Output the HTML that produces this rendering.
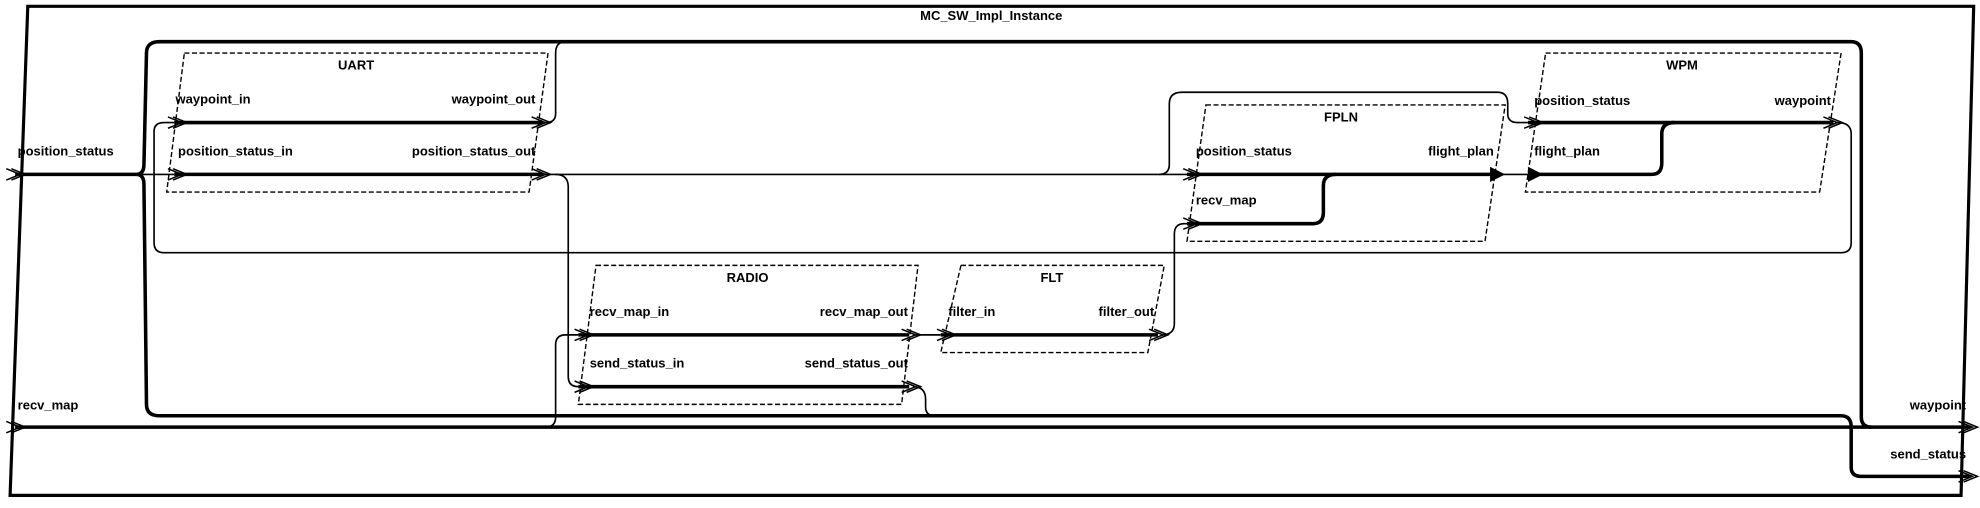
<!DOCTYPE html>
<html><head><meta charset="utf-8"><style>
html,body{margin:0;padding:0;background:#fff;}
svg{display:block;}
text{font-family:"Liberation Sans",Arial,sans-serif;font-weight:bold;font-size:10.3px;fill:#000;}
</style></head><body>
<svg width="1980" height="508" viewBox="0 0 1568 402" preserveAspectRatio="none" xmlns="http://www.w3.org/2000/svg">
<defs>
<g id="ch"><path d="M-11,-4.5 L0,0 L-11,4.5 M-7,-4.5 L4,0 L-7,4.5" fill="none" stroke="#000" stroke-width="1.2"/></g>
<g id="tri"><path d="M-10,-6 L2,0 L-10,6 Z" fill="#000"/></g>
</defs>
<rect width="1568" height="402" fill="#fff"/>
<path d="M22,5 L1563,5 L1553,392 L8,392 Z" fill="none" stroke="#000" stroke-width="2.5"/>
<text x="785" y="16" text-anchor="middle">MC_SW_Impl_Instance</text>

<path d="M108,138 Q114,138 114,130 L116,42 Q116,33 126,33 L1466,33 Q1474,33 1474,42 L1474,330 Q1474,338 1482,338" fill="none" stroke="#000" stroke-width="2.8"/>
<path d="M108,138 Q114,138 114,146 L116,320 Q116,329 126,329 L1458,329 Q1466,329 1466,338 L1466,370 Q1466,377 1474,377 L1560,377" fill="none" stroke="#000" stroke-width="2.8"/>
<path d="M12,138 L108,138" stroke="#000" stroke-width="2.8"/>
<path d="M108,138 L138,138" stroke="#000" stroke-width="1.3"/>
<path d="M12,338 L1560,338" stroke="#000" stroke-width="2.8"/>

<path d="M1455,97 Q1466,97 1466,106 L1466,192 Q1466,200 1458,200 L130,200 Q122,200 122,192 L122,104 Q122,97 130,97 L138,97" fill="none" stroke="#000" stroke-width="1.3"/>
<path d="M432,97 Q440,97 440,90 L440,42 Q440,33 448,33" fill="none" stroke="#000" stroke-width="1.3"/>
<path d="M432,138 L940,138" stroke="#000" stroke-width="1.3"/>
<path d="M918,138 Q926,138 926,130 L926,82 Q926,73 936,73 L1186,73 Q1194,73 1194,82 L1194,90 Q1194,97 1202,97 L1210,97" fill="none" stroke="#000" stroke-width="1.3"/>
<path d="M440,138 Q450,138 450,148 L450,298 Q450,306 458,306" fill="none" stroke="#000" stroke-width="1.3"/>
<path d="M432,338 Q440,338 440,330 L440,273 Q440,265 448,265 L458,265" fill="none" stroke="#000" stroke-width="1.3"/>
<path d="M723,306 Q733,306 733,316 L733,322 Q733,329 740,329" fill="none" stroke="#000" stroke-width="1.3"/>
<path d="M723,265 L745,265" stroke="#000" stroke-width="1.3"/>
<path d="M920,265 Q930,265 930,256 L930,185 Q930,177 938,177 L940,177" fill="none" stroke="#000" stroke-width="1.3"/>
<path d="M1190,138 L1210,138" stroke="#000" stroke-width="1.3"/>

<path d="M146,42 L434,42 L419,152 L132,152 Z" fill="none" stroke="#000" stroke-width="1.1" stroke-dasharray="4,2"/>
<text x="282" y="55" text-anchor="middle">UART</text>
<text x="139" y="82">waypoint_in</text>
<text x="424" y="82" text-anchor="end">waypoint_out</text>
<text x="141" y="123">position_status_in</text>
<text x="424" y="123" text-anchor="end">position_status_out</text>
<path d="M138,97 L430,97 M138,138 L430,138" stroke="#000" stroke-width="2.8"/>

<path d="M955,83 L1192,83 L1176,191 L940,191 Z" fill="none" stroke="#000" stroke-width="1.1" stroke-dasharray="4,2"/>
<text x="1062" y="96" text-anchor="middle">FPLN</text>
<text x="947" y="123">position_status</text>
<text x="1183" y="123" text-anchor="end">flight_plan</text>
<text x="947" y="162">recv_map</text>
<path d="M940,138 L1186,138" stroke="#000" stroke-width="2.8"/>
<path d="M940,177 L1040,177 Q1048,177 1048,168 L1048,147 Q1048,138 1058,138" fill="none" stroke="#000" stroke-width="2.8"/>

<path d="M1224,42 L1458,42 L1441,152 L1208,152 Z" fill="none" stroke="#000" stroke-width="1.1" stroke-dasharray="4,2"/>
<text x="1332" y="55" text-anchor="middle">WPM</text>
<text x="1215" y="83">position_status</text>
<text x="1450" y="83" text-anchor="end">waypoint</text>
<text x="1215" y="123">flight_plan</text>
<path d="M1210,97 L1452,97" stroke="#000" stroke-width="2.8"/>
<path d="M1212,138 L1308,138 Q1316,138 1316,129 L1316,106 Q1316,97 1326,97" fill="none" stroke="#000" stroke-width="2.8"/>

<path d="M472,210 L727,210 L714,320 L458,320 Z" fill="none" stroke="#000" stroke-width="1.1" stroke-dasharray="4,2"/>
<text x="592" y="223" text-anchor="middle">RADIO</text>
<text x="467" y="250">recv_map_in</text>
<text x="719" y="250" text-anchor="end">recv_map_out</text>
<text x="467" y="291">send_status_in</text>
<text x="719" y="291" text-anchor="end">send_status_out</text>
<path d="M458,265 L720,265 M458,306 L720,306" stroke="#000" stroke-width="2.8"/>

<path d="M761,210 L922,210 L909,279 L745,279 Z" fill="none" stroke="#000" stroke-width="1.1" stroke-dasharray="4,2"/>
<text x="833" y="223" text-anchor="middle">FLT</text>
<text x="751" y="250">filter_in</text>
<text x="914" y="250" text-anchor="end">filter_out</text>
<path d="M745,265 L917,265" stroke="#000" stroke-width="2.8"/>

<text x="14" y="123">position_status</text>
<text x="14" y="324">recv_map</text>
<text x="1557" y="324" text-anchor="end">waypoint</text>
<text x="1557" y="363" text-anchor="end">send_status</text>

<use href="#ch" x="16" y="138"/>
<use href="#ch" x="16" y="338"/>
<use href="#ch" x="1562" y="338"/>
<use href="#ch" x="1562" y="377"/>
<use href="#ch" x="144" y="97"/>
<use href="#ch" x="144" y="138"/>
<use href="#ch" x="432" y="97"/>
<use href="#ch" x="432" y="138"/>
<use href="#ch" x="948" y="138"/>
<use href="#ch" x="948" y="177"/>
<use href="#tri" x="1190" y="138"/>
<use href="#tri" x="1220" y="138"/>
<use href="#ch" x="1218" y="97"/>
<use href="#ch" x="1455" y="97"/>
<use href="#ch" x="466" y="265"/>
<use href="#ch" x="466" y="306"/>
<use href="#ch" x="725" y="265"/>
<use href="#ch" x="725" y="306"/>
<use href="#ch" x="753" y="265"/>
<use href="#ch" x="921" y="265"/>
</svg>
</body></html>
